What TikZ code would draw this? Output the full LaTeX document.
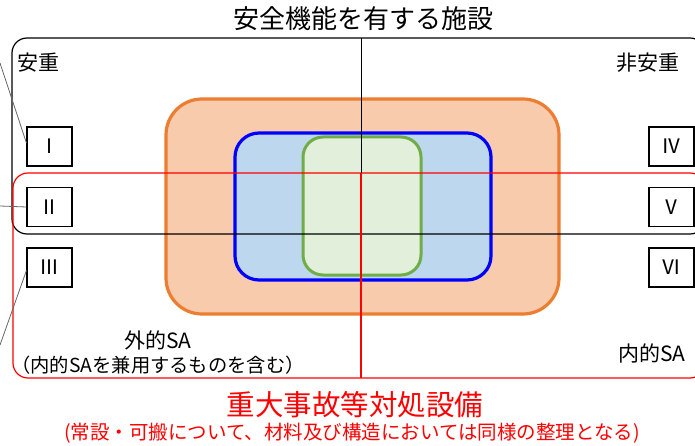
\documentclass[tikz,border=0pt]{standalone}
\usepackage{fontspec}
\setmainfont{Noto Sans CJK JP}
\usetikzlibrary{positioning}
\definecolor{orline}{HTML}{ED7D31}
\definecolor{orfill}{HTML}{F8CBAD}
\definecolor{blfill}{HTML}{BDD7EE}
\definecolor{grline}{HTML}{70AD47}
\definecolor{grfill}{HTML}{E2EFDA}
\tikzstyle{numbox} = [rectangle, draw=black, line width=1.1pt, fill=white, minimum width=45pt, minimum height=39pt, inner sep=0pt, font=\fontsize{20}{20}\selectfont]
\tikzstyle{label} = [inner sep=0pt, font=\fontsize{21}{21}\selectfont]
\tikzstyle{leader} = [draw=black!60, line width=0.8pt]
\tikzstyle{frame} = [line width=1.2pt, rounded corners=15pt]

\begin{document}
\begin{tikzpicture}[x=1pt, y=-1pt, node distance=60.5pt]
		\useasboundingbox (0,0) rectangle (695,446);
		% nested sets
		\draw [draw=orline, fill=orfill, line width=3.2pt, rounded corners=36pt] (166,99) rectangle (559,314);
		\draw [draw=blue, fill=blfill, line width=3.2pt, rounded corners=24pt] (235,133) rectangle (491,280);
		\draw [draw=grline, fill=grfill, line width=3pt, rounded corners=20pt] (303,137) rectangle (421,275);
		% frames
		\draw [frame, black] (12,38) rectangle (705,234);
		\draw [frame, red] (13,173) rectangle (705,378);
		\draw [line width=1pt, black] (361,38) -- (361,173);
		\draw [line width=1.1pt, red] (361,173) -- (361,378);
		% boxes
		\node (b1) [numbox] at (49.5,146.5) {Ⅰ};
		\node (b2) [numbox, below of=b1] {Ⅱ};
		\node (b3) [numbox, below of=b2] {Ⅲ};
		\node (b4) [numbox] at (671.5,146.5) {Ⅳ};
		\node (b5) [numbox, below of=b4] {Ⅴ};
		\node (b6) [numbox, below of=b5] {Ⅵ};
		% leaders
		\coordinate (l1) at (0,63);
		\coordinate (l2) at (0,206);
		\coordinate (l3) at (0,345);
		\draw [leader] (l1) -- ([yshift=3.5pt]b1.west);
		\draw [leader] (l2) -- (b2.west);
		\draw [leader] ([yshift=-3pt]b3.west) -- (l3);
		% texts
		\node (anju) [label] at (38,63) {安重};
		\node (hianju) [label] at (648,63) {非安重};
		\node (gaiteki) [label] at (158,340) {外的SA};
		\node (kenyo) [label, font=\fontsize{19.3}{19.3}\selectfont] at (158,365) {（内的SAを兼用するものを含む）};
		\node (naiteki) [label] at (652,353) {内的SA};
		\node (title) [label, font=\fontsize{26}{26}\selectfont] at (363,19) {安全機能を有する施設};
		\node (sa) [label, red, font=\fontsize{28.5}{28.5}\selectfont] at (355,405) {重大事故等対処設備};
		\node (sub) [label, red, font=\fontsize{19.5}{19.5}\selectfont] at (352,433) {(常設・可搬について、材料及び構造においては同様の整理となる)};
		\end{tikzpicture}
\end{document}
